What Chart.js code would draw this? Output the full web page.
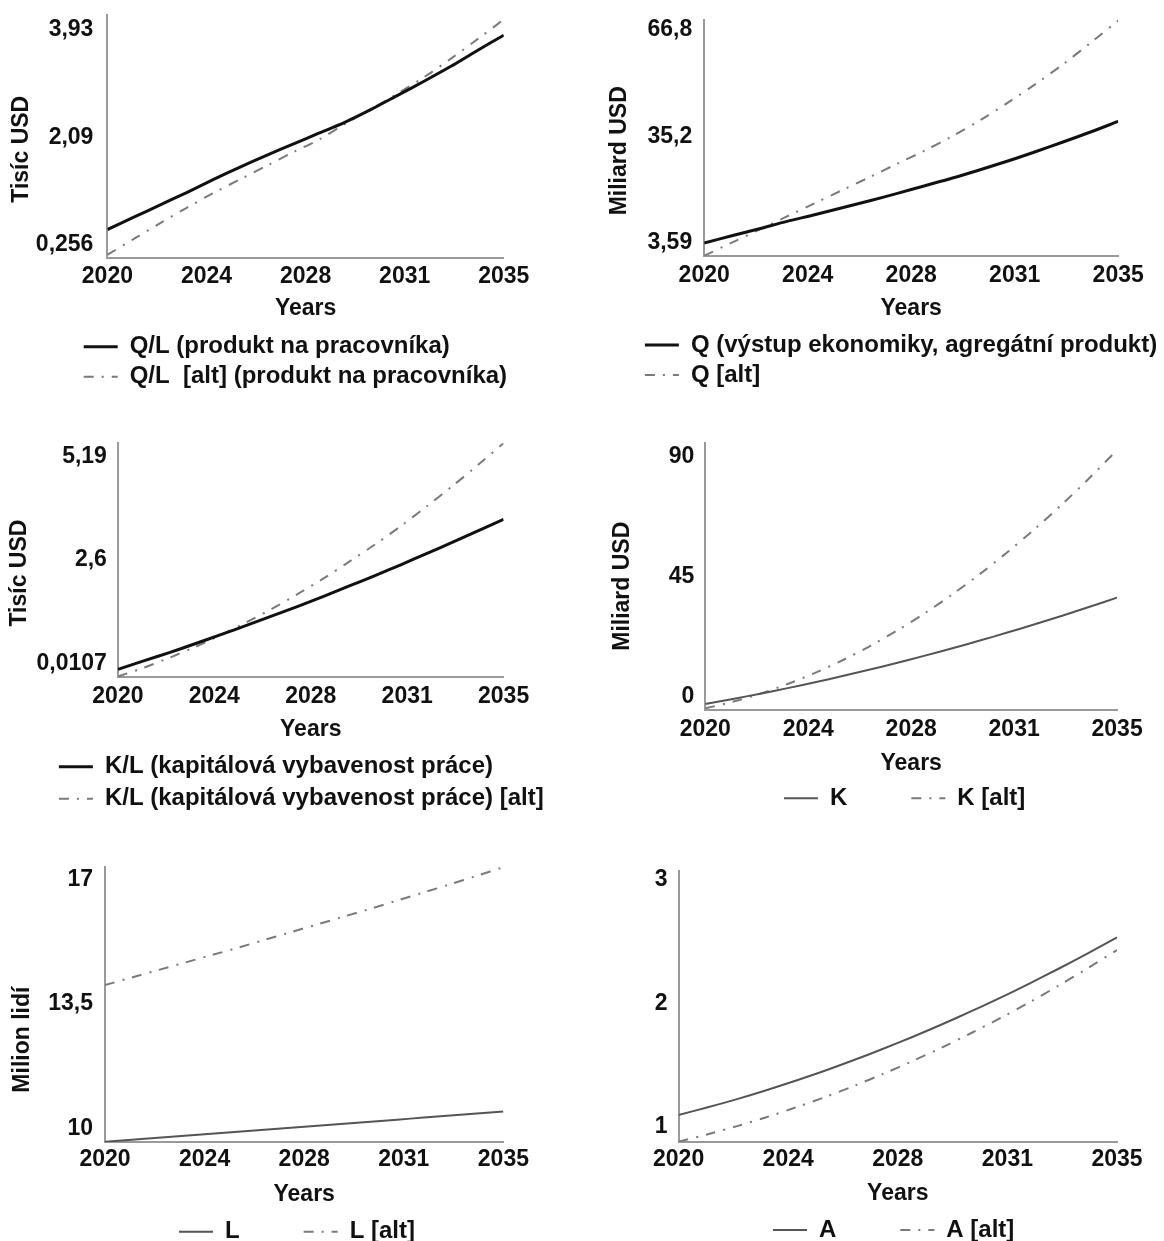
<!DOCTYPE html>
<html>
<head>
<meta charset="utf-8">
<script src="https://cdn.jsdelivr.net/npm/chart.js@4.4.1/dist/chart.umd.min.js"></script>
<style>
  html, body { margin: 0; padding: 0; background: #fff; }
  body { width: 1164px; height: 1241px; position: relative; overflow: hidden; }
  canvas { position: absolute; }
</style>
</head>
<body>
<canvas id="c1" width="582" height="420" style="left:0;top:0"></canvas>
<canvas id="c2" width="582" height="420" style="left:582px;top:0"></canvas>
<canvas id="c3" width="582" height="420" style="left:0;top:420px"></canvas>
<canvas id="c4" width="582" height="420" style="left:582px;top:420px"></canvas>
<canvas id="c5" width="582" height="401" style="left:0;top:840px"></canvas>
<canvas id="c6" width="582" height="401" style="left:582px;top:840px"></canvas>
<script>
// roky simulace a popisky osy x
const years = [2020, 2021, 2022, 2023, 2024, 2025, 2026, 2027, 2028, 2029, 2030, 2031, 2032, 2033, 2034, 2035];
const xTicks = [2020, 2023.75, 2027.5, 2031.25, 2035];
const xLabels = ['2020', '2024', '2028', '2031', '2035'];

// Q/L - produkt na pracovnika (tisic USD)
const qlBase = [0.52, 0.73, 0.94, 1.15, 1.37, 1.58, 1.78, 1.97, 2.16, 2.35, 2.57, 2.81, 3.05, 3.30, 3.57, 3.83];
const qlAlt = [0.09, 0.36, 0.63, 0.89, 1.14, 1.37, 1.60, 1.83, 2.05, 2.32, 2.58, 2.84, 3.12, 3.43, 3.76, 4.10];
const qlTicks = [0.256, 2.09, 3.93];
const qlTickLabels = ['0,256', '2,09', '3,93'];

// Q - vystup ekonomiky (miliard USD)
const qBase = [3.49, 5.67, 7.75, 9.93, 11.91, 13.99, 16.07, 18.25, 20.53, 22.81, 25.28, 27.86, 30.63, 33.51, 36.48, 39.65];
const qAlt = [-0.27, 3.6, 7.5, 11.4, 15.3, 19.2, 23.1, 27.1, 31.0, 35.3, 40.0, 45.2, 50.7, 56.6, 63.0, 69.6];
const qTicks = [3.59, 35.2, 66.8];
const qTickLabels = ['3,59', '35,2', '66,8'];

// K/L - kapitalova vybavenost prace (tisic USD)
const klBase = [-0.14, 0.07, 0.28, 0.50, 0.73, 0.96, 1.20, 1.44, 1.69, 1.95, 2.21, 2.48, 2.76, 3.04, 3.33, 3.62];
const klAlt = [-0.32, -0.10, 0.15, 0.42, 0.72, 1.04, 1.38, 1.75, 2.14, 2.56, 2.99, 3.45, 3.94, 4.45, 4.98, 5.53];
const klTicks = [0.0107, 2.6, 5.19];
const klTickLabels = ['0,0107', '2,6', '5,19'];

// K - kapital (miliard USD)
const kBase = [-2.75, -0.88, 1.11, 3.20, 5.41, 7.74, 10.18, 12.71, 15.38, 18.15, 21.03, 24.03, 27.13, 30.35, 33.69, 37.13];
const kAlt = [-4.38, -1.90, 1.13, 4.74, 8.93, 13.66, 18.99, 24.88, 31.33, 38.36, 45.96, 54.13, 62.86, 72.18, 82.05, 92.5];
const kTicks = [0, 45, 90];
const kTickLabels = ['0', '45', '90'];

// L - prace (milion lidi)
const lBase = [9.620, 9.676, 9.732, 9.788, 9.845, 9.902, 9.959, 10.016, 10.073, 10.130, 10.187, 10.244, 10.301, 10.358, 10.414, 10.470];
const lAlt = [14.04, 14.25, 14.46, 14.67, 14.88, 15.09, 15.31, 15.53, 15.75, 15.97, 16.19, 16.42, 16.65, 16.88, 17.12, 17.36];
const lTicks = [10, 13.5, 17];
const lTickLabels = ['10', '13,5', '17'];

// A - technologie
const aBase = [1.095, 1.157, 1.223, 1.295, 1.372, 1.453, 1.540, 1.631, 1.727, 1.828, 1.934, 2.044, 2.160, 2.280, 2.405, 2.535];
const aAlt = [0.878, 0.938, 1.004, 1.076, 1.155, 1.239, 1.330, 1.428, 1.531, 1.641, 1.757, 1.879, 2.008, 2.143, 2.285, 2.432];
const aTicks = [1, 2, 3];
const aTickLabels = ['1', '2', '3'];

Chart.defaults.font.family = '"Liberation Sans", Arial, sans-serif';
Chart.defaults.font.size = 23;
Chart.defaults.font.weight = 'bold';
Chart.defaults.color = '#111';

// legenda se kresli na zadane misto (zacatek prvni cary, stred prvniho radku)
const legendAt = {
  id: 'legendAt',
  afterLayout(chart, args, opts) {
    const lg = chart.legend;
    const pad = lg.options.labels.padding;
    lg.left = opts.x - pad;
    lg.top = opts.y - pad - 12;
    lg.right = chart.width;
    lg.bottom = chart.height;
    lg.width = lg.right - lg.left;
    lg.height = lg.bottom - lg.top;
  }
};

// vzorky car v legende podle stylu datovych rad (vcetne carkovani)
function lineLabels(chart) {
  return chart.data.datasets.map((d, i) => ({
    text: d.label,
    datasetIndex: i,
    strokeStyle: d.borderColor,
    fillStyle: d.borderColor,
    lineWidth: d.borderWidth,
    lineDash: d.borderDash || [],
    lineCap: 'butt',
    pointStyle: 'line',
    fontColor: '#111'
  }));
}

function panel(id, p) {
  const main = p.thin ? { color: '#555', width: 2 } : { color: '#111', width: 3 };
  new Chart(document.getElementById(id), {
    type: 'line',
    data: {
      labels: years,
      datasets: [
        { label: p.names[0], data: p.base, borderColor: main.color, borderWidth: main.width },
        { label: p.names[1], data: p.alt, borderColor: '#7a7a7a', borderWidth: 2, borderDash: [10, 8, 2, 8] }
      ]
    },
    options: {
      responsive: false,
      animation: false,
      elements: { point: { radius: 0 }, line: { tension: 0.3, borderCapStyle: 'butt' } },
      layout: { padding: p.pad },
      scales: {
        x: {
          type: 'linear', min: 2020, max: 2035, bounds: 'data',
          grid: { display: false, drawTicks: false },
          border: { color: '#999', width: 2 },
          afterBuildTicks: s => { s.ticks = xTicks.map(v => ({ value: v })); },
          ticks: { padding: p.xp, maxRotation: 0, autoSkip: false, callback: (v, i) => xLabels[i] },
          title: { display: true, text: 'Years', padding: 0 },
          afterFit: s => { s.height = p.xh; s.paddingLeft = 0; s.paddingRight = 0; }
        },
        y: {
          min: p.min, max: p.max, bounds: 'data',
          grid: { display: false, drawTicks: false },
          border: { color: '#999', width: 2 },
          afterBuildTicks: s => { s.ticks = p.ticks.map(v => ({ value: v })); },
          ticks: { padding: p.tp, callback: (v, i) => p.tickLabels[i] },
          title: { display: !!p.title, text: p.title, padding: 0 },
          afterFit: s => { s.width = p.yw; s.paddingTop = 0; s.paddingBottom = 0; }
        }
      },
      plugins: {
        legend: {
          position: 'bottom', align: 'start', maxHeight: 1,
          labels: {
            usePointStyle: true, pointStyle: 'line', pointStyleWidth: 34,
            padding: p.lp, font: { size: 24 }, generateLabels: lineLabels
          }
        },
        legendAt: p.legend,
        tooltip: { enabled: false }
      }
    },
    plugins: [legendAt]
  });
}

panel('c1', {
  names: ['Q/L (produkt na pracovníka)', 'Q/L  [alt] (produkt na pracovníka)'],
  base: qlBase, alt: qlAlt, ticks: qlTicks, tickLabels: qlTickLabels,
  min: 0.035, max: 4.174, title: 'Tisíc USD    ',
  pad: { left: 7.5, top: 15, right: 78.2, bottom: 96.9 }, yw: 99.9, xh: 64.1, tp: 14, xp: 5,
  legend: { x: 83.7, y: 346.7 }, lp: 6
});

panel('c2', {
  names: ['Q (výstup ekonomiky, agregátní produkt)', 'Q [alt]'],
  base: qBase, alt: qAlt, ticks: qTicks, tickLabels: qTickLabels,
  min: -0.36, max: 69.77, title: 'Miliard USD    ',
  pad: { left: 23.5, top: 20, right: 45.8, bottom: 96.9 }, yw: 98.7, xh: 66.1, tp: 12, xp: 6,
  legend: { x: 62.9, y: 345 }, lp: 6
});

panel('c3', {
  names: ['K/L (kapitálová vybavenost práce)', 'K/L (kapitálová vybavenost práce) [alt]'],
  base: klBase, alt: klAlt, ticks: klTicks, tickLabels: klTickLabels,
  min: -0.34, max: 5.526, title: 'Tisíc USD    ',
  pad: { left: 5.8, top: 23.3, right: 78.4, bottom: 95.2 }, yw: 112.1, xh: 66.5, tp: 11, xp: 6,
  legend: { x: 58.9, y: 346.7 }, lp: 8
});

panel('c4', {
  names: ['K', 'K [alt]'], thin: true,
  base: kBase, alt: kAlt, ticks: kTicks, tickLabels: kTickLabels,
  min: -5, max: 95, title: 'Miliard USD   ',
  pad: { left: 27.1, top: 23.3, right: 46.9, bottom: 61.9 }, yw: 96.2, xh: 67.1, tp: 11, xp: 6,
  legend: { x: 202, y: 378.3 }, lp: 64
});

panel('c5', {
  names: ['L', 'L [alt]'], thin: true,
  base: lBase, alt: lAlt, ticks: lTicks, tickLabels: lTickLabels,
  min: 9.605, max: 17.375, title: 'Milion lidí           ',
  pad: { left: 8.6, top: 26.7, right: 78.6, bottom: 31.2 }, yw: 96.4, xh: 66.5, tp: 12, xp: 4,
  legend: { x: 179, y: 391.7 }, lp: 64
});

panel('c6', {
  names: ['A', 'A [alt]'], thin: true,
  base: aBase, alt: aAlt, ticks: aTicks, tickLabels: aTickLabels,
  min: 0.873, max: 3.075, title: '',
  pad: { left: 20, top: 30.7, right: 47, bottom: 32.9 }, yw: 76.6, xh: 64.8, tp: 11, xp: 4,
  legend: { x: 191, y: 390 }, lp: 64
});
</script>
</body>
</html>
